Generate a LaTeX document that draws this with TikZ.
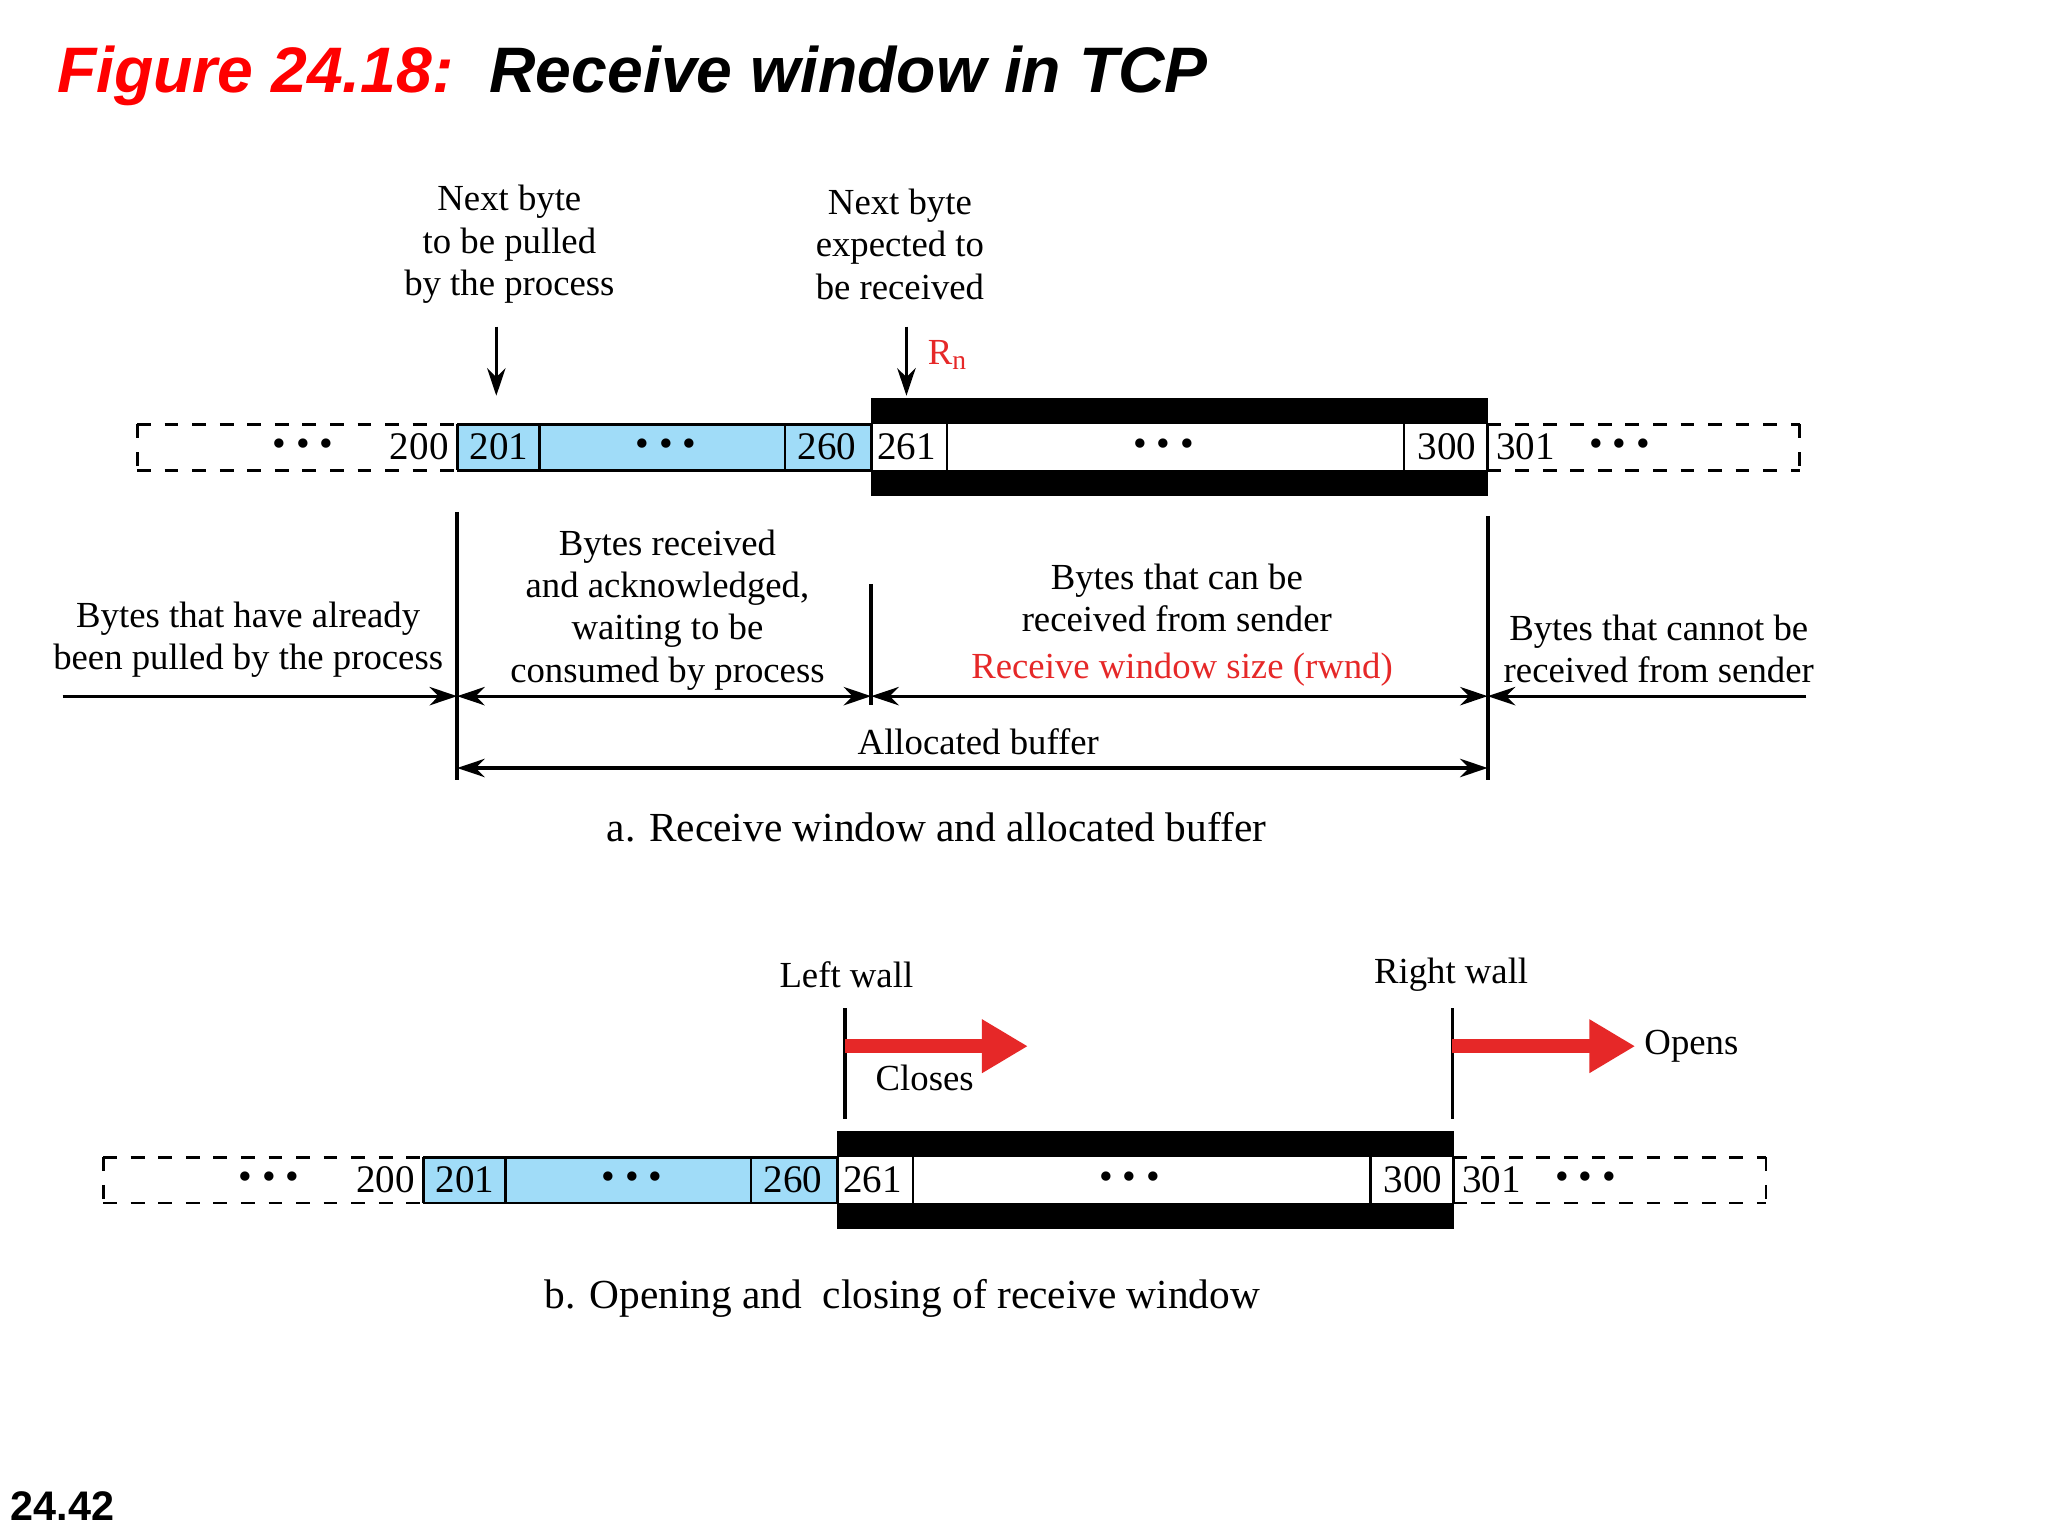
\documentclass[tikz,border=0pt]{standalone}
\usepackage{fontspec}
\setmainfont{Liberation Serif}
\newfontfamily\hv{Liberation Sans}
\usetikzlibrary{arrows.meta}
\definecolor{lblue}{RGB}{160,220,248}
\definecolor{rred}{RGB}{230,40,40}
\tikzset{
 t/.style={font=\fontsize{8}{9.2}\selectfont,align=center,inner sep=0pt},
 num/.style={font=\fontsize{8.5}{9}\selectfont,inner sep=0pt},
 captxt/.style={font=\fontsize{9}{10}\selectfont,inner sep=0pt},
 dim/.style={line width=0.7pt,-{Stealth[length=6pt,width=4pt]}},
 ddim/.style={line width=0.7pt,{Stealth[length=6pt,width=4pt]}-{Stealth[length=6pt,width=4pt]}},
 wall/.style={line width=0.8pt},
 red arrow/.style={rred,line width=3pt,-{Triangle[length=10pt,width=11pt]}},
 cell/.style={line width=0.6pt},
}
\newcommand{\bufstrip}[1]{%
 \draw[cell,dashed] (105,325) -- (350,325) (105,360) -- (350,360) (105,325) -- (105,360);
 \draw[cell,dashed] (1139,325) -- (1378,325) (1139,360) -- (1378,360) (1378,325) -- (1378,360);
 \fill[lblue] (350,325) rectangle (667,360);
 \fill[black] (667,305) rectangle (1139,325);
 \fill[black] (667,360) rectangle (1139,380);
 \draw[cell] (350,325) -- (667,325) (350,360) -- (667,360);
 \draw[cell] (350,325) -- (350,360) (413,325) -- (413,360) (601,325) -- (601,360) (667,325) -- (667,360) (725,325) -- (725,360) (1075,325) -- (1075,360) (1139,325) -- (1139,360);
 \node[num] (#1d1) at (232,343) {\textbullet\ \textbullet\ \textbullet};
 \node[num] (#1n200) at (321,342) {200};
 \node[num] (#1n201) at (382,342) {201};
 \node[num] (#1d2) at (510,343) {\textbullet\ \textbullet\ \textbullet};
 \node[num] (#1n260) at (633,342) {260};
 \node[num] (#1n261) at (694,342) {261};
 \node[num] (#1d3) at (891,343) {\textbullet\ \textbullet\ \textbullet};
 \node[num] (#1n300) at (1108,342) {300};
 \node[num] (#1n301) at (1168,342) {301};
 \node[num] (#1d4) at (1240,343) {\textbullet\ \textbullet\ \textbullet};
}
\begin{document}
\begin{tikzpicture}[x=0.01cm,y=-0.01cm]
\useasboundingbox[fill=white] (0,0) rectangle (1568,1176);
\node[anchor=west,inner sep=0pt,font=\hv\bfseries\itshape\fontsize{14}{16}\selectfont] (title) at (43,58) {\textcolor{red}{Figure 24.18:}\ \ Receive window in TCP};
% part a
\bufstrip{a}
\node[t] (nb1) at (390,187) {Next byte\\to be pulled\\by the process};
\node[t] (nb2) at (689,187) {Next byte\\expected to\\be received};
\coordinate (p1) at (380,250); \coordinate (p1e) at (380,303);
\coordinate (p2) at (694,250); \coordinate (p2e) at (694,303);
\draw[dim] (p1) -- (p1e);
\draw[dim] (p2) -- (p2e);
\node[t,rred] (rn) at (726,272) {R$_\mathrm{n}$};
\coordinate (v1t) at (350,392); \coordinate (v1b) at (350,597);
\coordinate (v2t) at (667,447); \coordinate (v2b) at (667,540);
\coordinate (v3t) at (1139,395); \coordinate (v3b) at (1139,597);
\draw[wall] (v1t) -- (v1b); \draw[wall] (v2t) -- (v2b); \draw[wall] (v3t) -- (v3b);
\coordinate (l0) at (48,533); \coordinate (l1) at (350,533);
\coordinate (l2) at (667,533); \coordinate (l3) at (1139,533); \coordinate (l4) at (1383,533);
\draw[dim] (l0) -- (l1);
\draw[ddim] (l1) -- (l2);
\draw[ddim] (l2) -- (l3);
\draw[dim] (l4) -- (l3);
\coordinate (b1) at (350,588); \coordinate (b2) at (1139,588);
\draw[ddim] (b1) -- (b2);
\node[t] (ta) at (190,490) {Bytes that have already\\been pulled by the process};
\node[t] (tb) at (511,467) {Bytes received\\and\ acknowledged,\\waiting to be\\consumed by process};
\node[t] (tc) at (901,458) {Bytes that can be\\received from sender};
\node[t,rred] (tr) at (905,513) {Receive window size (rwnd)};
\node[t] (td) at (1270,497) {Bytes that cannot be\\received from sender};
\node[t] (tal) at (749,568) {Allocated buffer};
\node[captxt] (capa) at (717,633) {a. Receive window and allocated buffer};
% part b
\begin{scope}[shift={(-26,561)}]
\bufstrip{b}
\end{scope}
\coordinate (lw1) at (647,772); \coordinate (lw2) at (647,857);
\coordinate (rw1) at (1112,772); \coordinate (rw2) at (1112,857);
\draw[wall] (lw1) -- (lw2); \draw[wall] (rw1) -- (rw2);
\coordinate (la) at (647,801); \coordinate (lae) at (787,801);
\coordinate (ra) at (1112,801); \coordinate (rae) at (1252,801);
\draw[red arrow] (la) -- (lae);
\draw[red arrow] (ra) -- (rae);
\node[t] (lwt) at (648,746) {Left wall};
\node[t] (rwt) at (1111,746) {Right wall};
\node[t] (cl) at (708,825) {Closes};
\node[t] (op) at (1295,801) {Opens};
\node[captxt] (capb) at (691,994) {b. Opening and\ \ closing of receive window};
\node[font=\hv\bfseries\fontsize{9}{10}\selectfont,inner sep=0pt] (pg) at (48,1153) {24.42};
\end{tikzpicture}
\end{document}
